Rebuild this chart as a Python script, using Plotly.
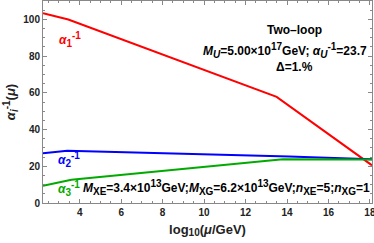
import plotly.graph_objects as go

# data
x_a1 = [2.23, 3.45, 13.5, 18.1]
y_a1 = [103.3, 99.9, 57.8, 20.5]
x_a2 = [2.23, 3.4, 14.1, 18.1]
y_a2 = [27.1, 28.5, 25.3, 23.8]
x_a3 = [2.23, 3.6, 13.8, 18.1]
y_a3 = [9.4, 12.6, 23.8, 23.7]

x_ticks = [4, 6, 8, 10, 12, 14, 16, 18]
y_ticks = [0, 20, 40, 60, 80, 100]

FONT = "Liberation Sans"

def sb(t, s=10):
    return f'<sub><span style="font-size:{s}px">{t}</span></sub>'

def sp(t, s=10):
    return f'<sup><span style="font-size:{s}px">{t}</span></sup>'

fig = go.Figure()
fig.add_trace(go.Scatter(x=x_a1, y=y_a1, mode="lines", line=dict(color="#ff0000", width=2)))
fig.add_trace(go.Scatter(x=x_a2, y=y_a2, mode="lines", line=dict(color="#0000ff", width=2)))
fig.add_trace(go.Scatter(x=x_a3, y=y_a3, mode="lines", line=dict(color="#00aa00", width=2)))

ann = []
def add(x, y, text, color="black", size=12, xanchor="center"):
    ann.append(dict(x=x, y=y, xref="x", yref="y", text="<b>" + text + "</b>", showarrow=False,
                    font=dict(family=FONT, size=size, color=color),
                    xanchor=xanchor, yanchor="middle"))

add(3.55, 89.0, "<i>α</i>" + sb("1") + sp("-1"), "#ff0000", 12)
add(3.5, 23.8, "<i>α</i>" + sb("2") + sp("-1"), "#0000ff", 12)
add(3.5, 7.8, "<i>α</i>" + sb("3") + sp("-1"), "#00aa00", 12)
add(4.05, 8.6, "<i>M</i>" + sb("XE") + "=3.4×10" + sp("13") + "GeV;<i>M</i>" + sb("XG")
    + "=6.2×10" + sp("13") + "GeV;<i>n</i>" + sb("XE") + "=5;<i>n</i>" + sb("XG") + "=1",
    "black", 12, "left")
add(14.35, 94.2, "Two–loop", "black", 12)
add(13.9, 83.0, "<i>M</i>" + sb("<i>U</i>") + "=5.00×10" + sp("17") + "GeV; <i>α</i>"
    + sb("<i>U</i>") + sp("-1") + "=23.7", "black", 12)
add(14.35, 73.9, "Δ=1.%", "black", 12)

axis_common = dict(ticks="inside", ticklen=4, tickcolor="#888", showline=True,
                   linecolor="#888", linewidth=1, mirror="ticks", showgrid=False,
                   zeroline=False, ticklabeloverflow="allow",
                   tickfont=dict(family=FONT, size=10, color="#222"))

fig.update_layout(
    width=374, height=243,
    margin=dict(l=43, r=2, t=1, b=40, autoexpand=False),
    paper_bgcolor="white", plot_bgcolor="white",
    showlegend=False,
    annotations=ann,
    xaxis=dict(range=[2.23, 18.1], tickvals=x_ticks, ticktext=[f"<b>{v}</b>" for v in x_ticks],
               minor=dict(dtick=0.5, tick0=0, ticks="inside", ticklen=2, tickcolor="#888"),
               title=dict(text="<b>log" + sb("10", 10) + "(<i>μ</i>/GeV)</b>", standoff=7,
                          font=dict(family=FONT, size=13, color="#222")),
               **axis_common),
    yaxis=dict(range=[0, 110], tickvals=y_ticks, ticktext=[f"<b>{v}</b>" for v in y_ticks],
               minor=dict(dtick=5, tick0=0, ticks="inside", ticklen=2, tickcolor="#888"),
               title=dict(text="<b><i>α</i>" + sb("<i>i</i>", 10) + sp("-1", 10) + "(<i>μ</i>)</b>", standoff=4,
                          font=dict(family=FONT, size=13, color="#222")),
               **axis_common),
)
fig.write_html("out.html", config={"displayModeBar": False},
               post_script="document.body.style.margin='0px';")
